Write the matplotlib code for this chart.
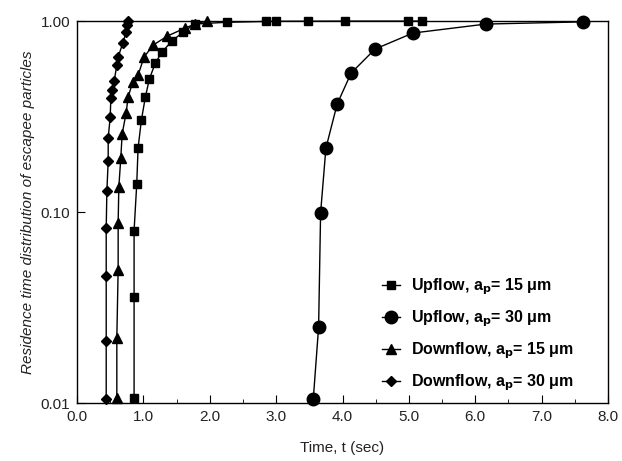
import matplotlib
matplotlib.use("Agg")
import matplotlib.pyplot as plt
from matplotlib.ticker import FixedLocator, MultipleLocator, FormatStrFormatter, NullLocator

plt.rcParams['font.family'] = ['Liberation Sans', 'DejaVu Sans']

# Upflow, a_p = 15 um (squares)
up15_t = [0.86, 0.86, 0.86, 0.90, 0.92, 0.97, 1.03, 1.09, 1.18, 1.28, 1.43, 1.60, 1.78,
          2.26, 2.85, 3.00, 3.48, 4.04, 4.99, 5.20]
up15_y = [0.0106, 0.036, 0.080, 0.140, 0.216, 0.303, 0.40, 0.497, 0.603, 0.688, 0.786, 0.876, 0.965,
          0.985, 0.995, 0.997, 0.998, 0.999, 0.999, 1.0]

# Upflow, a_p = 30 um (circles)
up30_t = [3.56, 3.64, 3.67, 3.75, 3.92, 4.13, 4.49, 5.06, 6.16, 7.62]
up30_y = [0.0105, 0.025, 0.099, 0.216, 0.368, 0.534, 0.713, 0.865, 0.964, 0.99]

# Downflow, a_p = 15 um (triangles)
dn15_t = [0.60, 0.60, 0.62, 0.62, 0.63, 0.66, 0.68, 0.74, 0.77, 0.84, 0.92, 1.01, 1.15, 1.36, 1.63, 1.78, 1.96]
dn15_y = [0.0106, 0.022, 0.050, 0.088, 0.135, 0.192, 0.256, 0.330, 0.40, 0.48, 0.52, 0.648, 0.749, 0.834, 0.919, 0.965, 1.0]

# Downflow, a_p = 30 um (diamonds)
dn30_t = [0.44, 0.44, 0.44, 0.44, 0.45, 0.47, 0.47, 0.50, 0.51, 0.53, 0.56, 0.60, 0.62, 0.69, 0.74, 0.75, 0.77]
dn30_y = [0.0105, 0.021, 0.046, 0.082, 0.129, 0.185, 0.244, 0.314, 0.395, 0.435, 0.485, 0.588, 0.648, 0.767, 0.876, 0.953, 1.0]

labels = [r'Upflow, a$_\mathbf{p}$= 15 μm', r'Upflow, a$_\mathbf{p}$= 30 μm',
          r'Downflow, a$_\mathbf{p}$= 15 μm', r'Downflow, a$_\mathbf{p}$= 30 μm']
xticks = [0, 1, 2, 3, 4, 5, 6, 7, 8]
yticks = [0.01, 0.10, 1.00]

fig = plt.figure(figsize=(6.22, 4.61), dpi=100)
ax = fig.add_axes([0.1238, 0.1258, 0.8537, 0.8286])

kw = dict(color='black', lw=1.0, clip_on=False)
ax.plot(up15_t, up15_y, marker='s', ms=5.5, label=labels[0], **kw)
ax.plot(up30_t, up30_y, marker='o', ms=9, label=labels[1], **kw)
ax.plot(dn15_t, dn15_y, marker='^', ms=7.5, label=labels[2], **kw)
ax.plot(dn30_t, dn30_y, marker='D', ms=5.5, label=labels[3], **kw)

ax.set_yscale('log')
ax.set_xlim(0, 8)
ax.set_ylim(0.01, 1.0)
ax.xaxis.set_major_locator(FixedLocator(xticks))
ax.xaxis.set_minor_locator(MultipleLocator(0.5))
ax.xaxis.set_major_formatter(FormatStrFormatter('%.1f'))
ax.yaxis.set_major_locator(FixedLocator(yticks))
ax.yaxis.set_minor_locator(NullLocator())
ax.yaxis.set_major_formatter(FormatStrFormatter('%.2f'))
ax.tick_params(axis='both', which='major', direction='in', length=6, labelsize=11,
               right=False, top=False, pad=5, labelcolor='#222222')
ax.tick_params(axis='both', which='minor', direction='in', length=3, right=False, top=False)
for s in ax.spines.values():
    s.set_linewidth(1.0)

ax.set_xlabel('Time, t (sec)', fontsize=11, color='#222222', labelpad=12)
ax.set_ylabel('Residence time distribution of escapee particles', fontsize=11,
              style='italic', color='#222222', labelpad=4)

leg = ax.legend(loc='lower left', frameon=False, prop={'weight': 'bold', 'size': 11.5},
                handlelength=1.1, labelspacing=0.72, handletextpad=0.7,
                bbox_to_anchor=(0.575, 0.025), borderaxespad=0, borderpad=0)

fig.savefig('out.png', dpi=100)
